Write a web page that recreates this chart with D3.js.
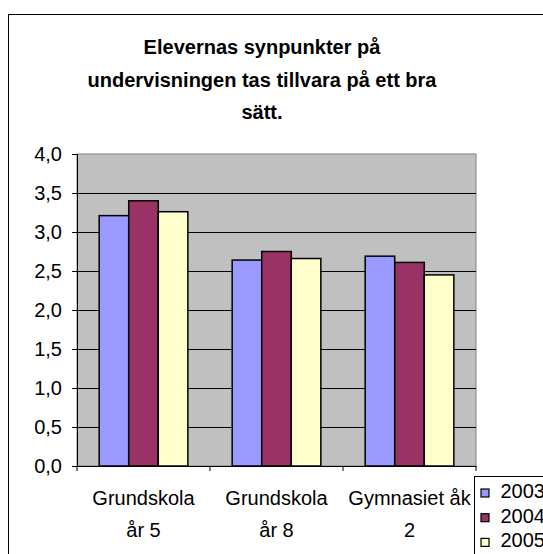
<!DOCTYPE html>
<html>
<head>
<meta charset="utf-8">
<script src="https://cdn.jsdelivr.net/npm/d3@7"></script>
<style>
  body { margin: 0; background: #fff; }
  text { font-family: "Liberation Sans", Arial, sans-serif; fill: #000; }
</style>
</head>
<body>
<div id="chart"></div>
<script>
// Data____________________________________________
const categories = ["Grundskola år 5", "Grundskola år 8", "Gymnasiet åk 2"];
const categoryLines = [["Grundskola", "år 5"], ["Grundskola", "år 8"], ["Gymnasiet åk", "2"]];
const years = ["2003", "2004", "2005"];
const values2003 = [3.21, 2.64, 2.69];
const values2004 = [3.40, 2.75, 2.61];
const values2005 = [3.26, 2.66, 2.45];
const yTicks = [0, 0.5, 1, 1.5, 2, 2.5, 3, 3.5, 4];
const titleLines = ["Elevernas synpunkter på", "undervisningen tas tillvara på ett bra", "sätt."];

const series = [values2003, values2004, values2005];
const colors = ["#9999FF", "#993366", "#FFFFCC"];

// Layout__________________________________________
const width = 543, height = 554;
const plotLeft = 77, plotRight = 476, plotTop = 154, plotBottom = 466;

const svg = d3.select("#chart").append("svg")
    .attr("width", width)
    .attr("height", height);

// outer chart border (runs off the picture on the right and bottom)
svg.append("rect")
    .attr("x", 8.5).attr("y", 14.5)
    .attr("width", 600).attr("height", 600)
    .attr("fill", "#fff")
    .attr("stroke", "#000");

// title
svg.append("g").selectAll("text")
    .data(titleLines)
    .enter()
    .append("text")
    .attr("x", 262)
    .attr("y", (d, i) => 54 + i * 32.5)
    .attr("text-anchor", "middle")
    .style("font-size", "20px")
    .style("font-weight", "bold")
    .text(d => d);

// Scales__________________________________________
const x0 = d3.scaleBand()
    .domain(categories)
    .range([plotLeft, plotRight])
    .padding(0);

const x1 = d3.scaleBand()
    .domain(years)
    .range([0, x0.bandwidth()])
    .paddingInner(0)
    .paddingOuter(0.75);

const y = d3.scaleLinear()
    .domain([0, 4])
    .range([plotBottom, plotTop]);

const comma = d3.formatLocale({ decimal: ",", thousands: " ", grouping: [3], currency: ["", " kr"] }).format(".1f");

// plot area
svg.append("rect")
    .attr("x", plotLeft).attr("y", plotTop)
    .attr("width", plotRight - plotLeft).attr("height", plotBottom - plotTop)
    .attr("fill", "#C0C0C0")
    .attr("stroke", "#808080");

// gridlines
svg.append("g").selectAll("line")
    .data(yTicks.filter(d => d > 0 && d < 4))
    .enter()
    .append("line")
    .attr("x1", plotLeft).attr("x2", plotRight)
    .attr("y1", d => Math.round(y(d)) + 0.5)
    .attr("y2", d => Math.round(y(d)) + 0.5)
    .attr("stroke", "#000");

// Bars____________________________________________
const groups = svg.append("g").selectAll("g")
    .data(categories)
    .enter()
    .append("g")
    .attr("transform", d => `translate(${x0(d)},0)`);

groups.selectAll("rect")
    .data((d, ci) => years.map((yr, si) => ({ yr: yr, v: series[si][ci], c: colors[si] })))
    .enter()
    .append("rect")
    .attr("x", d => x1(d.yr))
    .attr("y", d => y(d.v))
    .attr("width", x1.bandwidth())
    .attr("height", d => y(0) - y(d.v))
    .attr("fill", d => d.c)
    .attr("stroke", "#000")
    .attr("stroke-width", 1.5);

// Axes____________________________________________
const yAxis = d3.axisLeft(y)
    .tickValues(yTicks)
    .tickSize(5)
    .tickPadding(10)
    .tickFormat(comma);

svg.append("g")
    .attr("transform", `translate(${plotLeft},0)`)
    .call(yAxis)
    .call(g => g.selectAll("text").style("font-size", "20px"))
    .call(g => g.select(".domain").attr("stroke", "#000"));

const xAxis = d3.axisBottom(x0)
    .tickValues([])
    .tickSizeOuter(0);

const xg = svg.append("g")
    .attr("transform", `translate(0,${plotBottom})`)
    .call(xAxis);
xg.select(".domain").attr("stroke", "#000");

// category boundary ticks
xg.selectAll("line.sep")
    .data(categories.concat(["end"]))
    .enter()
    .append("line")
    .attr("class", "sep")
    .attr("x1", d => d === "end" ? plotRight : x0(d))
    .attr("x2", d => d === "end" ? plotRight : x0(d))
    .attr("y1", 0).attr("y2", 5)
    .attr("stroke", "#000");

// category labels
const labels = svg.append("g").selectAll("text")
    .data(categories)
    .enter()
    .append("text")
    .attr("text-anchor", "middle")
    .style("font-size", "20px");

labels.selectAll("tspan")
    .data((d, i) => categoryLines[i].map(t => ({ t: t, cx: x0(d) + x0.bandwidth() / 2 })))
    .enter()
    .append("tspan")
    .attr("x", d => d.cx)
    .attr("y", (d, i) => 505 + i * 32)
    .text(d => d.t);

// Legend__________________________________________
const legend = svg.append("g")
    .attr("transform", "translate(474.5,476.5)");

legend.append("rect")
    .attr("width", 100).attr("height", 100)
    .attr("fill", "#fff")
    .attr("stroke", "#000");

legend.selectAll("rect.sw")
    .data(years)
    .enter()
    .append("rect")
    .attr("class", "sw")
    .attr("x", 6.5)
    .attr("y", (d, i) => 12.5 + i * 24.7)
    .attr("width", 8).attr("height", 8)
    .attr("fill", (d, i) => colors[i])
    .attr("stroke", "#000")
    .attr("stroke-width", 1.2);

legend.selectAll("text")
    .data(years)
    .enter()
    .append("text")
    .attr("x", 26)
    .attr("y", (d, i) => 21.5 + i * 24.7)
    .style("font-size", "20px")
    .text(d => d);
</script>
</body>
</html>
